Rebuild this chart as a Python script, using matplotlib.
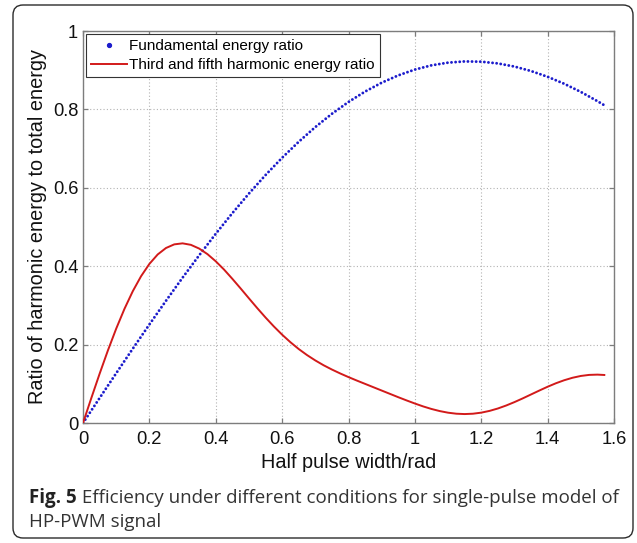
import matplotlib
matplotlib.use('Agg')
import matplotlib.pyplot as plt
from matplotlib.lines import Line2D
from matplotlib.patches import FancyBboxPatch

# ---- data ----
fund_width = [0.00, 0.05, 0.10, 0.15, 0.20, 0.25, 0.30, 0.35, 0.40, 0.45,
              0.50, 0.55, 0.60, 0.65, 0.70, 0.75, 0.80, 0.85, 0.90, 0.95,
              1.00, 1.05, 1.10, 1.15, 1.20, 1.25, 1.30, 1.35, 1.40, 1.45,
              1.50, 1.55, 1.5708]
fundamental_ratio = [0.000, 0.0636, 0.1269, 0.1896, 0.2513, 0.3117, 0.3707, 0.4277,
                     0.4827, 0.5353, 0.5853, 0.6325, 0.6766, 0.7174, 0.7549, 0.7888,
                     0.8190, 0.8455, 0.8681, 0.8868, 0.9016, 0.9124, 0.9193, 0.9224,
                     0.9217, 0.9173, 0.9093, 0.8979, 0.8832, 0.8654, 0.8446, 0.8211,
                     0.8106]
harm_width = [0.000, 0.025, 0.050, 0.075, 0.100, 0.125, 0.150, 0.175, 0.200, 0.225,
              0.250, 0.275, 0.300, 0.325, 0.350, 0.375, 0.400, 0.425, 0.450, 0.475,
              0.500, 0.525, 0.550, 0.575, 0.600, 0.625, 0.650, 0.675, 0.700, 0.725,
              0.750, 0.775, 0.800, 0.825, 0.850, 0.875, 0.900, 0.925, 0.950, 0.975,
              1.000, 1.025, 1.050, 1.075, 1.100, 1.125, 1.150, 1.175, 1.200, 1.225,
              1.250, 1.275, 1.300, 1.325, 1.350, 1.375, 1.400, 1.425, 1.450, 1.475,
              1.500, 1.525, 1.550, 1.5708]
harmonic35_ratio = [0.0000, 0.0634, 0.1255, 0.1850, 0.2406, 0.2913, 0.3362, 0.3745,
                    0.4058, 0.4299, 0.4464, 0.4557, 0.4583, 0.4545, 0.4450, 0.4308,
                    0.4125, 0.3914, 0.3678, 0.3432, 0.3180, 0.2931, 0.2691, 0.2464,
                    0.2253, 0.2061, 0.1887, 0.1733, 0.1596, 0.1473, 0.1364, 0.1264,
                    0.1171, 0.1083, 0.0998, 0.0913, 0.0828, 0.0743, 0.0658, 0.0576,
                    0.0497, 0.0423, 0.0358, 0.0304, 0.0263, 0.0237, 0.0228, 0.0237,
                    0.0264, 0.0309, 0.0370, 0.0446, 0.0533, 0.0628, 0.0728, 0.0828,
                    0.0925, 0.1014, 0.1091, 0.1154, 0.1200, 0.1227, 0.1234, 0.1225]
x_ticks = [0, 0.2, 0.4, 0.6, 0.8, 1.0, 1.2, 1.4, 1.6]
x_tick_labels = ['0', '0.2', '0.4', '0.6', '0.8', '1', '1.2', '1.4', '1.6']
y_ticks = [0, 0.2, 0.4, 0.6, 0.8, 1.0]
y_tick_labels = ['0', '0.2', '0.4', '0.6', '0.8', '1']
series_labels = ['Fundamental energy ratio', 'Third and fifth harmonic energy ratio']
x_label = 'Half pulse width/rad'
y_label = 'Ratio of harmonic energy to total energy'
caption_bold = 'Fig. 5'
caption_line1 = ' Efficiency under different conditions for single-pulse model of'
caption_line2 = 'HP-PWM signal'

plt.rcParams['font.family'] = ['Liberation Sans', 'DejaVu Sans']

W, H = 637, 543
fig = plt.figure(figsize=(W / 100, H / 100), dpi=100)
fig.patch.set_facecolor('white')

# rounded frame around the figure + caption
frame = FancyBboxPatch((13 / 100, (H - 538) / 100), 620 / 100, 533 / 100,
                       boxstyle='round,pad=0,rounding_size=0.1',
                       transform=fig.dpi_scale_trans, fill=False,
                       edgecolor='#2b2b2b', linewidth=1.0, zorder=0)
fig.patches.append(frame)

ax_l, ax_r, ax_t, ax_b = 83, 614, 31, 423
ax = fig.add_axes([ax_l / W, 1 - ax_b / H, (ax_r - ax_l) / W, (ax_b - ax_t) / H])

blue = '#1c1ccc'
red = '#d21a1a'
ax.plot(fund_width, fundamental_ratio, color=blue, lw=2.1,
        linestyle=(0, (0.01, 1.4)), dash_capstyle='round', zorder=3)
ax.plot(harm_width, harmonic35_ratio, color=red, lw=1.4, zorder=4)

ax.set_xlim(0, 1.6)
ax.set_ylim(0, 1)
ax.set_xticks(x_ticks)
ax.set_xticklabels(x_tick_labels)
ax.set_yticks(y_ticks)
ax.set_yticklabels(y_tick_labels)

spine_c = '#7d7d7d'
for s in ax.spines.values():
    s.set_color(spine_c)
    s.set_linewidth(1.0)
ax.tick_params(direction='in', length=3.6, width=0.9, color=spine_c,
               top=True, right=True, labelsize=13.2, labelcolor='#111111')
ax.tick_params(axis='x', pad=5.5)
ax.tick_params(axis='y', pad=3.5)
ax.grid(True, color='#b3b3b3', linestyle=(0, (1, 2)), linewidth=0.8)
ax.set_axisbelow(True)

ax.set_xlabel(x_label, fontsize=14.3, labelpad=3.5, color='#111111')
ax.set_ylabel(y_label, fontsize=14.3, labelpad=4, color='#111111')

handles = [Line2D([], [], color=blue, marker='o', markersize=2.8, linestyle='none'),
           Line2D([], [], color=red, lw=1.4)]
leg = ax.legend(handles, series_labels, loc='upper left', bbox_to_anchor=(0, 1),
                borderaxespad=0.2, fontsize=11, handlelength=2.3, handletextpad=0.15,
                labelspacing=0.3, borderpad=0.35, fancybox=False, framealpha=1,
                edgecolor='#333333')
leg.get_frame().set_linewidth(0.8)

# caption
cap_font = ['Open Sans', 'DejaVu Sans']
cap_size = 13.5
t1 = fig.text(29 / W, (H - 503) / H, caption_bold, fontsize=cap_size, fontweight='bold',
              family=cap_font, color='#222222', ha='left', va='baseline')
fig.canvas.draw()
bb = t1.get_window_extent(fig.canvas.get_renderer())
fig.text(bb.x1 / W, (H - 503) / H, caption_line1, fontsize=cap_size, family=cap_font,
         color='#333333', ha='left', va='baseline')
fig.text(29 / W, (H - 527) / H, caption_line2, fontsize=cap_size, family=cap_font,
         color='#333333', ha='left', va='baseline')

fig.savefig('out.png', dpi=100)
